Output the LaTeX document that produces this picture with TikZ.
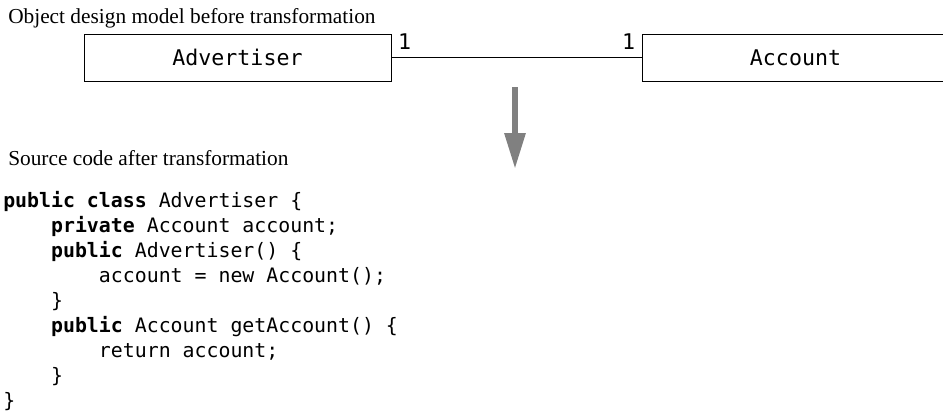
\documentclass[tikz,border=0pt]{standalone}
\usepackage{fontspec}
\setmainfont{Liberation Serif}
\newfontfamily\codefont{DejaVu Sans Mono}
\usetikzlibrary{arrows.meta}

\newcommand{\ind}{\phantom{xxxx}}
\newcommand{\kw}[1]{\textbf{#1}}

\begin{document}
\begin{tikzpicture}[x=0.75pt, y=-0.75pt,
  caption/.style={font=\fontsize{16}{19}\selectfont, inner sep=0pt, anchor=base west},
  classbox/.style={draw, line width=0.7pt, minimum width=230.25pt, minimum height=35.25pt,
    inner sep=0pt, font=\codefont\fontsize{16.2}{19}\selectfont},
  mult/.style={font=\codefont\fontsize{16.2}{19}\selectfont, inner sep=0pt, anchor=base},
  codeline/.style={font=\codefont\fontsize{14.9}{18}\selectfont, inner sep=0pt, anchor=base west}]

\useasboundingbox (0,0) rectangle (943,414);

% Captions
\node[caption] (capbefore) at (8,23) {Object design model before transformation};
\node[caption] (capafter) at (8,165) {Source code after transformation};

% Class boxes
\node[classbox] (adv) at (237.5,57.5) {Advertiser};
\node[classbox] (acc) at (795.5,57.5) {Account};

% Association with multiplicities
\draw[line width=0.7pt] (adv.east) -- (acc.west);
\node[mult] (multadv) at (404.5,49) {1};
\node[mult] (multacc) at (628.5,49) {1};

% Transformation arrow
\coordinate (arrtop) at (515,87);
\coordinate (arrtip) at (515,169);
\draw[gray, line width=4.5pt, -{Triangle[length=27pt, width=15pt]}] (arrtop) -- (arrtip);

% Source code
\node[codeline] (c1) at (3,207) {\kw{public class} Advertiser \{};
\node[codeline] (c2) at (3,232) {\ind\kw{private} Account account;};
\node[codeline] (c3) at (3,257) {\ind\kw{public} Advertiser() \{};
\node[codeline] (c4) at (3,282) {\ind\ind account = new Account();};
\node[codeline] (c5) at (3,307) {\ind\}};
\node[codeline] (c6) at (3,332) {\ind\kw{public} Account getAccount() \{};
\node[codeline] (c7) at (3,357) {\ind\ind return account;};
\node[codeline] (c8) at (3,382) {\ind\}};
\node[codeline] (c9) at (3,407) {\}};

\end{tikzpicture}
\end{document}
